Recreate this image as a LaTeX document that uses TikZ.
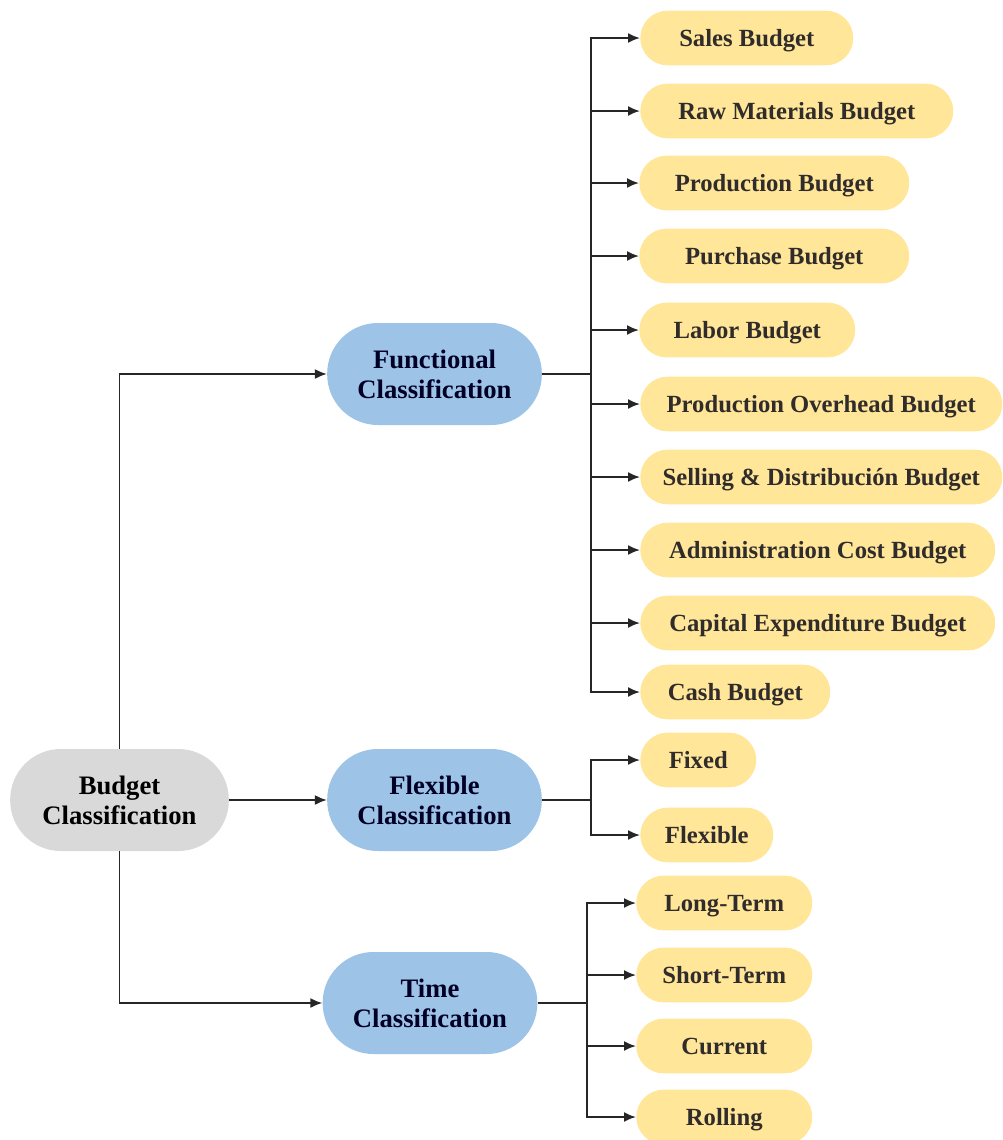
\documentclass[tikz,border=0pt]{standalone}
\usepackage{fontspec}
\setmainfont{Liberation Serif}
\usetikzlibrary{arrows.meta}
\definecolor{ybox}{HTML}{FFE699}
\definecolor{bbox}{HTML}{9DC3E6}
\definecolor{gbox}{HTML}{D9D9D9}
\tikzset{
  leaf/.style={fill=ybox, rounded corners=20.5pt, minimum height=41pt, inner sep=0pt, anchor=west,
    text height=12.3pt, text depth=0pt,
    font=\bfseries\fontsize{18.5}{22}\selectfont, text=black!90!yellow!60!black},
  mid/.style={fill=bbox, rounded corners=38pt, minimum height=76.5pt, minimum width=161pt, inner sep=0pt,
    align=center, font=\bfseries\fontsize{20}{22.5}\selectfont, text=black!85!blue},
  root/.style={fill=gbox, rounded corners=38pt, minimum height=76.5pt, minimum width=164pt, inner sep=0pt,
    align=center, font=\bfseries\fontsize{20}{22.5}\selectfont},
  conn/.style={line width=1.4pt, draw=black!85},
  arr/.style={conn, -{Latex[length=9pt,width=7.5pt]}}
}
\begin{document}
\begin{tikzpicture}[x=0.75pt,y=-0.75pt]
\useasboundingbox (0,0) rectangle (1003,1140);
% main nodes
\node[root] (root) at (119.5,800) {Budget\\Classification};
\node[mid] (func) at (434.5,374) {Functional\\Classification};
\node[mid] (flex) at (434.5,800) {Flexible\\Classification};
\node[mid] (time) at (430,1003) {Time\\Classification};
% functional leaves
\node[leaf, minimum width=159.75pt] (sales) at (640,38) {Sales Budget};
\node[leaf, minimum width=234.75pt] (raw) at (640,111) {Raw Materials Budget};
\node[leaf, minimum width=202.5pt] (prod) at (639,183) {Production Budget};
\node[leaf, minimum width=202.5pt] (purch) at (639,256) {Purchase Budget};
\node[leaf, minimum width=162pt] (labor) at (639,330) {Labor Budget};
\node[leaf, minimum width=271.5pt] (over) at (640,404) {Production Overhead Budget};
\node[leaf, minimum width=271.5pt] (sell) at (640,477) {Selling \& Distribución Budget};
\node[leaf, minimum width=266.25pt] (admin) at (640,550) {Administration Cost Budget};
\node[leaf, minimum width=266.25pt] (cap) at (640,623) {Capital Expenditure Budget};
\node[leaf, minimum width=142.5pt] (cash) at (640,692) {Cash Budget};
% flexible leaves
\node[leaf, minimum width=87pt] (fixed) at (640,760) {Fixed};
\node[leaf, minimum width=99.75pt] (flx) at (640,835) {Flexible};
% time leaves
\node[leaf, minimum width=132pt] (long) at (636,903) {Long-Term};
\node[leaf, minimum width=132pt] (short) at (636,975) {Short-Term};
\node[leaf, minimum width=132pt] (curr) at (636,1046) {Current};
\node[leaf, minimum width=132pt] (roll) at (636,1117) {Rolling};
% root connectors
\draw[arr] (root.north) |- (func.west);
\draw[arr] (root.east) -- (flex.west);
\draw[arr] (root.south) |- (time.west);
% junctions
\coordinate (fj) at (591,374);
\coordinate (xj) at (591,800);
\coordinate (tj) at (587,1003);
\draw[conn] (func.east) -- (fj);
\draw[conn] (flex.east) -- (xj);
\draw[conn] (time.east) -- (tj);
\foreach \n in {sales,raw,prod,purch,labor,over,sell,admin,cap,cash}
  \draw[arr] (fj) |- (\n.west);
\foreach \n in {fixed,flx}
  \draw[arr] (xj) |- (\n.west);
\foreach \n in {long,short,curr,roll}
  \draw[arr] (tj) |- (\n.west);
\end{tikzpicture}
\end{document}
